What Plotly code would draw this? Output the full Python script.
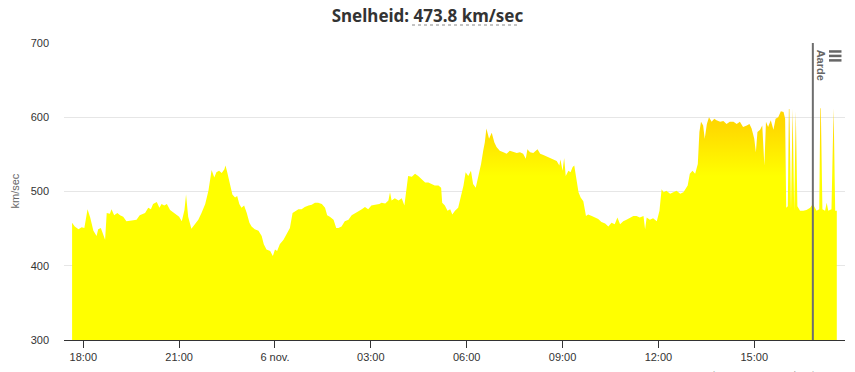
import plotly.graph_objects as go

# ---- data (time of day, km/sec) ----
times = [
    "17:39", "17:44", "17:51", "17:57", "18:02", "18:08", "18:13", "18:19", "18:25", "18:28",
    "18:33", "18:36", "18:41", "18:44", "18:50", "18:53", "18:58", "19:04", "19:09", "19:15",
    "19:21", "19:31", "19:40", "19:46", "19:56", "20:02", "20:07", "20:11", "20:18", "20:23",
    "20:27", "20:32", "20:37", "20:43", "20:49", "20:55", "21:00", "21:05", "21:10", "21:13",
    "21:17", "21:23", "21:30", "21:36", "21:42", "21:49", "21:55", "22:01", "22:06", "22:10",
    "22:15", "22:20", "22:25", "22:27", "22:30", "22:35", "22:40", "22:45", "22:49", "22:53",
    "22:57", "23:02", "23:07", "23:12", "23:16", "23:22", "23:29", "23:35", "23:39", "23:44",
    "23:51", "23:56",
    "00:00", "00:04", "00:09", "00:16", "00:22", "00:28", "00:33", "00:38", "00:44", "00:50",
    "00:56", "01:03", "01:09", "01:15", "01:21", "01:28", "01:34", "01:38", "01:43", "01:50",
    "01:55", "01:59", "02:05", "02:11", "02:18", "02:24", "02:30", "02:36", "02:43", "02:49",
    "02:55", "03:01", "03:08", "03:16", "03:20", "03:27", "03:33", "03:36", "03:39", "03:45",
    "03:52", "03:58", "04:03", "04:07", "04:10", "04:17", "04:23", "04:29", "04:35", "04:42",
    "04:48", "04:54", "05:00", "05:07", "05:12", "05:14", "05:19", "05:24", "05:29", "05:33",
    "05:38", "05:44", "05:49", "05:54", "05:58", "06:03", "06:08", "06:12", "06:17", "06:22",
    "06:27", "06:31", "06:34", "06:37", "06:42", "06:47", "06:52", "06:56", "07:02", "07:09",
    "07:15", "07:21", "07:28", "07:34", "07:40", "07:46", "07:51", "07:54", "07:59", "08:05",
    "08:13", "08:18", "08:24", "08:30", "08:36", "08:43", "08:49", "08:54", "08:56", "09:00",
    "09:03", "09:06", "09:11", "09:15", "09:19", "09:22", "09:25", "09:30", "09:34", "09:39",
    "09:44", "09:48", "09:55", "10:01", "10:07", "10:13", "10:20", "10:26", "10:32", "10:38",
    "10:43", "10:48", "10:54", "11:00", "11:07", "11:13", "11:19", "11:25", "11:32", "11:35",
    "11:38", "11:44", "11:50", "11:57", "12:02", "12:06", "12:10", "12:15", "12:22", "12:28",
    "12:34", "12:41", "12:47", "12:55", "12:59", "13:04", "13:09", "13:14", "13:17", "13:20",
    "13:24", "13:27", "13:31", "13:35", "13:40", "13:45", "13:49", "13:56", "14:02", "14:08",
    "14:14", "14:21", "14:27", "14:33", "14:39", "14:46", "14:51", "14:55", "15:00", "15:03",
    "15:06", "15:11", "15:15", "15:19", "15:22", "15:26", "15:31", "15:36", "15:40", "15:45",
    "15:50", "15:55", "15:58", "16:00", "16:03", "16:05", "16:06", "16:09", "16:11", "16:12",
    "16:15", "16:17", "16:18", "16:21", "16:26", "16:32", "16:38", "16:45", "16:50", "16:57",
    "17:02", "17:04", "17:05", "17:08", "17:13", "17:16", "17:19", "17:25", "17:28", "17:29",
    "17:32", "17:35",
]
speed = [
    458, 453, 449, 452, 451, 476, 465, 447, 440, 449,
    451, 444, 435, 471, 470, 476, 468, 471, 468, 466,
    460, 461, 462, 468, 471, 478, 476, 483, 486, 478,
    483, 481, 483, 475, 472, 468, 466, 460, 475, 496,
    466, 450, 456, 462, 471, 483, 501, 529, 519, 526,
    528, 525, 530, 535, 527, 510, 496, 492, 494, 483,
    478, 481, 471, 458, 453, 449, 447, 440, 429, 422,
    420, 413,
    422, 420, 429, 435, 444, 451, 471, 473, 476, 476,
    479, 481, 482, 485, 485, 483, 478, 468, 466, 462,
    451, 451, 453, 460, 462, 468, 470, 473, 476, 479,
    476, 481, 482, 483, 485, 484, 488, 499, 488, 491,
    488, 491, 481, 501, 521, 520, 524, 521, 517, 512,
    512, 510, 508, 508, 505, 485, 481, 474, 476, 469,
    474, 478, 492, 508, 526, 521, 528, 510, 505, 519,
    537, 555, 566, 585, 571, 579, 566, 560, 555, 553,
    551, 555, 553, 552, 553, 551, 544, 557, 553, 552,
    557, 551, 549, 547, 546, 543, 541, 535, 543, 528,
    545, 521, 528, 526, 533, 535, 521, 499, 492, 487,
    467, 469, 467, 465, 463, 459, 457, 453, 458, 456,
    465, 456, 460, 462, 465, 467, 467, 465, 467, 449,
    465, 462, 464, 460, 474, 503, 499, 501, 497, 499,
    501, 497, 499, 508, 524, 528, 524, 537, 580, 594,
    589, 571, 591, 600, 594, 598, 596, 594, 595, 591,
    594, 594, 591, 594, 587, 589, 591, 585, 571, 553,
    580, 583, 589, 535, 594, 587, 596, 583, 598, 600,
    608, 607, 598, 478, 480, 611, 611, 476, 611, 611,
    474, 608, 608, 480, 474, 474, 475, 478, 483, 474,
    476, 612, 612, 476, 474, 485, 474, 476, 612, 612,
    474, 474,
]

# axis ticks
tick_times = ["2023-11-05 18:00", "2023-11-05 21:00", "2023-11-06 00:00", "2023-11-06 03:00",
              "2023-11-06 06:00", "2023-11-06 09:00", "2023-11-06 12:00", "2023-11-06 15:00"]
tick_labels = ["18:00", "21:00", "6 nov.", "03:00", "06:00", "09:00", "12:00", "15:00"]
y_ticks = [300, 400, 500, 600, 700]
x_range = ["2023-11-05 17:23:48", "2023-11-06 17:50:24"]
earth_time = "2023-11-06 16:50"
current_speed = 473.8

# build timestamps (day rolls over at midnight)
stamps = []
day = 5
prev = -1
for t in times:
    h = int(t[:2])
    if h < prev:
        day = 6
    prev = h
    stamps.append(f"2023-11-{day:02d} {t}")

fig = go.Figure()
fig.add_trace(go.Scatter(
    x=stamps, y=speed, mode="lines", line=dict(width=0, color="#ffff00"),
    fill="tozeroy",
    fillgradient=dict(type="vertical", start=300, stop=620,
                      colorscale=[[0, "#ffff00"], [0.69, "#ffff00"], [0.9, "#ffd900"], [1, "#ffd400"]]),
    hoverinfo="skip", showlegend=False,
))

# Earth marker line
fig.add_shape(type="line", xref="x", yref="y", x0=earth_time, x1=earth_time, y0=300, y1=700,
              line=dict(color="#6e6e6e", width=2))
fig.add_annotation(x=earth_time, y=700, xref="x", yref="y", text="<b>Aarde</b>", textangle=90,
                   showarrow=False, xanchor="left", yanchor="top", xshift=1, yshift=-5,
                   font=dict(family="Liberation Sans, Arial", size=11, color="#666666"))

# menu (export) icon
for yy in [0.9715, 0.9565, 0.9415]:
    fig.add_shape(type="line", xref="paper", yref="paper", x0=0.9795, x1=0.9955, y0=yy, y1=yy,
                  line=dict(color="#666666", width=2.5))

# dotted underline under the value in the title
fig.add_shape(type="line", xref="paper", yref="paper", x0=0.4456, x1=0.5839, y0=1.0606, y1=1.0606,
              line=dict(color="#888888", width=1, dash="dot"))

# y-axis title
fig.add_annotation(x=-0.064, y=0.5, xref="paper", yref="paper", text="km/sec", textangle=-90,
                   showarrow=False, xanchor="center", yanchor="middle",
                   font=dict(family="Liberation Sans, Arial", size=11, color="#666666"))

# credits (cut off at the bottom)
fig.add_annotation(x=1.0, y=-0.0943, xref="paper", yref="paper", text="SWPC/NOAA - SpaceWeatherLive",
                   showarrow=False, xanchor="right", yanchor="top", xshift=-20,
                   font=dict(family="Liberation Sans, Arial", size=9, color="#999999"))

fig.update_layout(
    width=855, height=372,
    margin=dict(l=64, r=10, t=43, b=32, autoexpand=False),
    paper_bgcolor="white", plot_bgcolor="white",
    title=dict(text=f"<b>Snelheid: {current_speed} km/sec</b>", x=0.5, xref="container", xanchor="center",
               y=1 - 16 / 372, yref="container", yanchor="middle", automargin=False,
               font=dict(family="Noto Sans, Open Sans, sans-serif", size=17, color="#333333")),
    font=dict(family="Liberation Sans, Arial", size=11, color="#333333"),
    showlegend=False,
)
fig.update_xaxes(
    type="date", range=x_range, tickvals=tick_times, ticktext=tick_labels, automargin=False,
    showgrid=False, showline=True, linecolor="#333333", linewidth=1,
    ticks="outside", ticklen=7, tickcolor="#333333", tickwidth=1,
    tickfont=dict(size=11, color="#333333"), zeroline=False,
)
fig.update_yaxes(
    range=[300, 700], tickvals=y_ticks, showgrid=True, gridcolor="#e6e6e6", gridwidth=1,
    zeroline=False, showline=False, ticklabelstandoff=14, automargin=False,
    tickfont=dict(size=11, color="#333333"),
)

fig.write_html("out.html", config={"displayModeBar": False},
               post_script="document.body.style.margin='0';document.body.style.padding='0';")
